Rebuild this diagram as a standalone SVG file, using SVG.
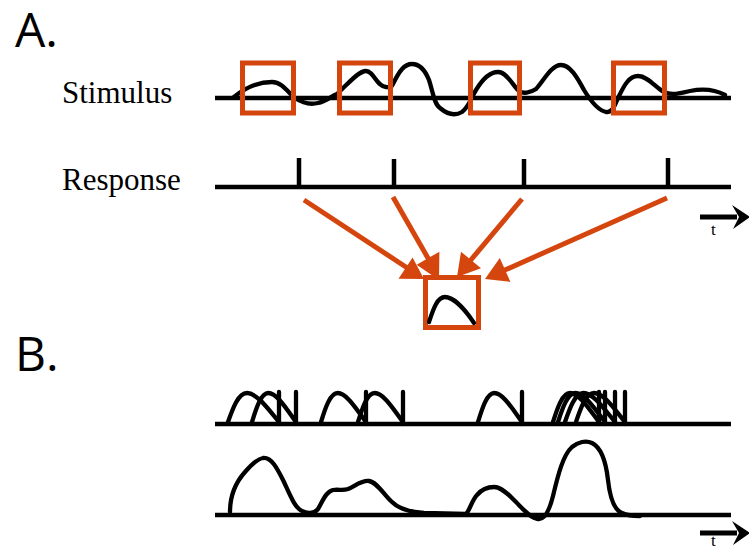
<svg xmlns="http://www.w3.org/2000/svg" width="749" height="550" viewBox="0 0 749 550">
  <style>
    .panel { font-family: "Open Sans", "Liberation Sans", sans-serif; font-size: 48px; fill: #000; }
    .label { font-family: "Liberation Serif", "DejaVu Serif", serif; font-size: 31px; fill: #000; }
    .tlabel { font-family: "Liberation Serif", "DejaVu Serif", serif; font-size: 17px; fill: #000; }
    .axis { stroke: #000; stroke-width: 4.5; fill: none; }
    .trace { stroke: #000; stroke-width: 4.3; fill: none; stroke-linecap: round; stroke-linejoin: round; }
    .tick { stroke: #000; stroke-width: 4.5; fill: none; }
    .window { stroke: #D5460F; stroke-width: 5; fill: none; }
    .link { stroke: #D5460F; stroke-width: 5; fill: none; }
    .head { fill: #D5460F; }
    .tarrow { fill: #000; }
  </style>
  <defs>
    <!-- time-axis arrow: shaft + notched head -->
    <g id="time-arrow">
      <line x1="700" y1="0" x2="737" y2="0" stroke="#000" stroke-width="5"/>
      <path class="tarrow" d="M732,-12 L750,0 L733,12 L739,0 Z"/>
    </g>
  </defs>

  <!-- panel letters -->
  <text class="panel" x="15" y="47">A.</text>
  <text class="panel" x="15" y="371">B.</text>

  <!-- Panel A: stimulus trace -->
  <g id="stimulus">
    <text class="label" x="62" y="103">Stimulus</text>
    <line class="axis" x1="215" y1="98" x2="731" y2="98"/>
    <path class="trace" d="M234,97 C246,87 258,82 272,82 C283,82 289,94 295,98 C301,102 310,105 318,103 C326,101 330,97 337,94 C347,85 358,71 366,71 C374,71 376,86 386,87 C392,88 392,86 394,82 C399,72 404,64 412,64 C420,64 425,70 429,80 C433,92 434,104 440,108 C447,114 455,116 462,112 C469,107 471,98 476,90 C482,80 489,72 498,72 C507,72 513,86 519,91 C523,94 530,93 536,89 C543,82 551,65 561,65 C570,65 577,77 584,90 C590,100 597,110 606,112 C613,113 615,104 618,98 C623,88 628,76 638,76 C648,76 656,88 664,92 C672,96 680,93 690,91 C700,89 712,88 725,95"/>
  </g>

  <!-- stimulus windows preceding each spike -->
  <g id="windows">
    <rect class="window" x="242.5" y="63" width="51" height="50"/>
    <rect class="window" x="339.5" y="63" width="51" height="50"/>
    <rect class="window" x="470.5" y="63" width="49" height="50"/>
    <rect class="window" x="613.5" y="63" width="51" height="50"/>
  </g>

  <!-- Panel A: spike train -->
  <g id="response">
    <text class="label" x="62" y="190">Response</text>
    <line class="axis" x1="215" y1="187" x2="731" y2="187"/>
    <line class="tick" x1="299" y1="158" x2="299" y2="187"/>
    <line class="tick" x1="394" y1="159" x2="394" y2="187"/>
    <line class="tick" x1="524" y1="159" x2="524" y2="187"/>
    <line class="tick" x1="668" y1="158" x2="668" y2="187"/>
  </g>

  <g id="time-axis-a">
    <use href="#time-arrow" transform="translate(0,217)"/>
    <text class="tlabel" x="711" y="235">t</text>
  </g>

  <!-- averaged window -->
  <g id="average">
    <rect class="window" x="425.5" y="277.5" width="53" height="50"/>
    <path class="trace" d="M429,322 C433,310 437,297 445,297 C454,297 466,311 474,323"/>
  </g>

  <!-- arrows from spikes to the average -->
  <g id="connectors">
    <line class="link" x1="304" y1="200" x2="407.4" y2="268"/>
    <path class="head" d="M424,279 L398.5,278.8 L412.6,257.6 Z"/>
    <line class="link" x1="393" y1="197" x2="428.5" y2="259"/>
    <path class="head" d="M439,280 L416.6,264.8 L439.4,251.7 Z"/>
    <line class="link" x1="522" y1="199" x2="470" y2="261"/>
    <path class="head" d="M457,277 L481,268.2 L461,251.7 Z"/>
    <line class="link" x1="667" y1="198" x2="503.2" y2="270.8"/>
    <path class="head" d="M485,279 L510.4,281.9 L499.8,258.1 Z"/>
  </g>

  <!-- Panel B: overlaid spike-triggered segments -->
  <g id="ensemble">
    <line class="axis" x1="215" y1="424" x2="731" y2="424"/>
    <path class="trace" d="M228,422 C232.6,409 238.2,393 246.9,393 C257.1,393 268.8,410 279,422 M279,392 V424"/>
    <path class="trace" d="M252,422 C256,409 260.8,393 268.3,393 C277.1,393 287.2,410 296,422 M296,392 V424"/>
    <path class="trace" d="M321,422 C325,409 330,393 337.7,393 C346.7,393 357,410 366,422 M366,392 V424"/>
    <path class="trace" d="M358,422 C362,409 367,393 374.7,393 C383.7,393 394,410 403,422 M403,392 V424"/>
    <path class="trace" d="M478,422 C482,409 486.8,393 494.3,393 C503.1,393 513.2,410 522,422 M522,392 V424"/>
    <path class="trace" d="M553,422 C557.1,409 562.2,393 570,393 C579.2,393 589.8,410 599,422 M599,392 V424"/>
    <path class="trace" d="M558,422 C562.2,409 567.4,393 575.4,393 C584.8,393 595.6,410 605,422 M605,392 V424"/>
    <path class="trace" d="M565,422 C569.5,409 575,393 583.5,393 C593.5,393 605,410 615,422 M615,392 V424"/>
    <path class="trace" d="M576,422 C580.4,409 585.8,393 594.1,393 C603.9,393 615.2,410 625,422 M625,392 V424"/>
  </g>

  <!-- Panel B: resulting rate -->
  <g id="rate">
    <line class="axis" x1="215" y1="515" x2="731" y2="515"/>
    <path class="trace" d="M230,512 C230,495 236,482 245,472 C251,465 257,459 263,458 C272,457 278,470 284,482 C290,495 295,508 302,511 C307,513 313,515 318,509 C322,503 325,492 333,490 C339,489 342,491 348,489 C355,486 362,480 369,481 C377,482 384,495 392,502 C398,508 410,512 424,513 L466,514 C470,510 472,500 477,495 C482,489 488,487 494,487 C502,487 510,496 516,502 C522,508 530,518 538,519 C545,520 550,508 553,496 C558,475 563,455 572,447 C578,442 586,440 592,443 C602,448 606,462 608,480 C610,498 614,510 622,513 C628,516 634,516 640,516"/>
  </g>

  <g id="time-axis-b">
    <use href="#time-arrow" transform="translate(0,533)"/>
    <text class="tlabel" x="711" y="546">t</text>
  </g>
</svg>
